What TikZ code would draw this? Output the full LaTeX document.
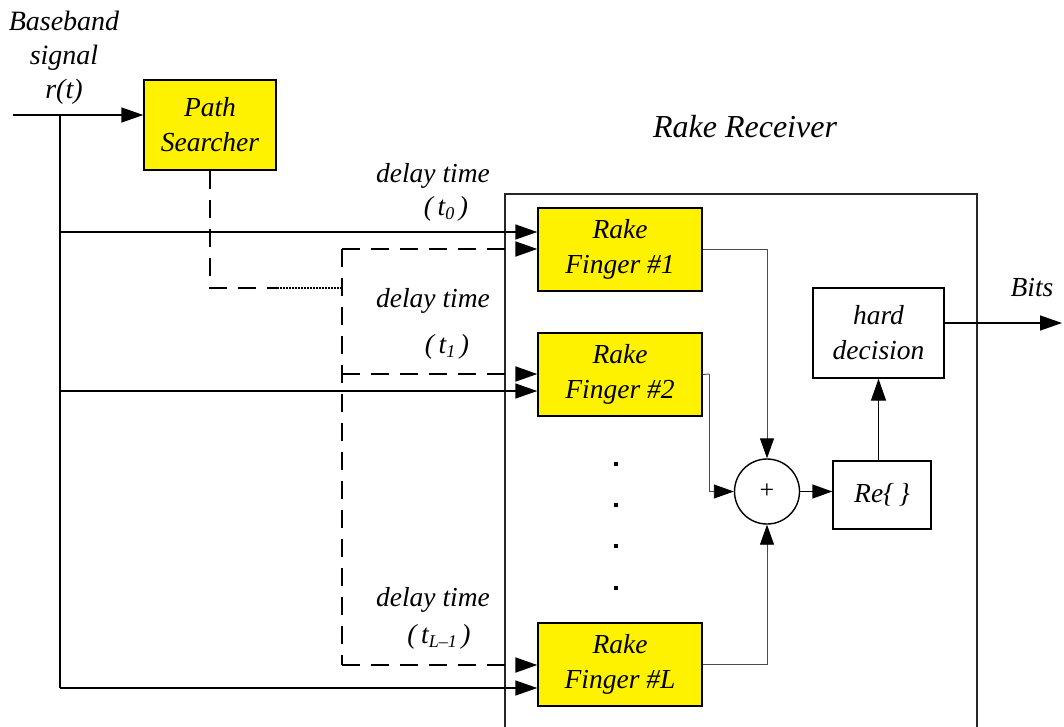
\documentclass[tikz,border=0pt]{standalone}
\usepackage{fontspec}
\setmainfont{Liberation Serif}
\usetikzlibrary{arrows.meta}

\newcommand\lowsub[1]{\raisebox{-0.35ex}{\fontsize{18}{18}\selectfont #1}}

\begin{document}
\begin{tikzpicture}[x=1pt,y=-1pt,
  font=\fontsize{27.5}{35}\selectfont\itshape,
  every node/.style={inner sep=0pt},
  txt/.style={align=center},
  blockbox/.style={draw=black, line width=1.4pt, align=center},
  yellowbox/.style={blockbox, fill=yellow, minimum width=164pt, minimum height=83pt},
  sig/.style={draw=black, line width=1.4pt},
  fine/.style={draw=black!70, line width=0.9pt},
  dashsig/.style={draw=black, line width=2pt, dash pattern=on 18pt off 11pt},
  dotsig/.style={draw=black, line width=1.3pt, dash pattern=on 1.5pt off 1.5pt},
  tip/.style={-{Triangle[length=22pt,width=15pt,color=black,fill=black]}},
  smalltip/.style={-{Triangle[length=20pt,width=14pt,color=black,fill=black]}},
  dotmark/.style={fill=black, minimum size=4.5pt}
]
\clip (0,0) rectangle (1064,726);

% receiver enclosure
\draw[line width=1.3pt, draw=black!85] (505,194) rectangle (977,760);
\node[anchor=base, font=\fontsize{32}{35}\selectfont\itshape] (rrlabel) at (745,137) {Rake Receiver};

% input and path searcher
\node[txt, font=\fontsize{28}{34}\selectfont\itshape] (bb) at (64,58) {Baseband\\signal\\r(t)};
\node[blockbox, fill=yellow, minimum width=132pt, minimum height=90pt] (ps) at (210,125) {Path\\Searcher};
\coordinate (in) at (13,115);
\coordinate (j0) at (60,115);
\draw[sig, tip] (in) -- (in -| ps.west);

% rake fingers
\node[yellowbox] (f1) at (620,249.5) {Rake\\Finger \#1};
\node[yellowbox] (f2) at (620,374.5) {Rake\\Finger \#2};
\node[yellowbox] (fL) at (620,664.5) {Rake\\Finger \#L};

% signal distribution
\coordinate (jL) at (60,688);
\coordinate (s1) at (60,232);
\coordinate (s2) at (60,391);
\draw[sig] (j0) -- (jL);
\draw[sig, tip] (s1) -- (s1 -| f1.west);
\draw[sig, tip] (s2) -- (s2 -| f2.west);
\draw[sig, tip] (jL) -- (jL -| fL.west);

% delay control from the path searcher
\coordinate (pc) at (210,288);
\coordinate (pd) at (277,288);
\coordinate (pe) at (342,288);
\coordinate (d1) at (342,249);
\coordinate (d2) at (342,374);
\coordinate (dL) at (342,665);
\draw[dashsig] (ps.south) -- (pc) -- (pd);
\draw[dotsig] (pd) -- (pe);
\draw[dashsig] (d1) -- (dL);
\draw[dashsig, tip] (d1) -- (d1 -| f1.west);
\draw[dashsig, tip] (d2) -- (d2 -| f2.west);
\draw[dashsig, tip] (dL) -- (dL -| fL.west);

% delay labels
\node[anchor=base] (dt0) at (433,182) {delay time};
\node[anchor=base] (t0) at (446,215) {(\,t\lowsub{0}\,)};
\node[anchor=base] (dt1) at (433,307) {delay time};
\node[anchor=base] (t1) at (447,353) {(\,t\lowsub{1}\,)};
\node[anchor=base] (dtL) at (433,606) {delay time};
\node[anchor=base] (tL) at (439,643) {(\,t\lowsub{L\textendash 1}\,)};

% ellipsis between fingers
\node[dotmark] (e1) at (616,464) {};
\node[dotmark] (e2) at (616,505) {};
\node[dotmark] (e3) at (616,546) {};
\node[dotmark] (e4) at (616,588) {};

% combiner
\node[circle, draw=black, line width=1.4pt, minimum size=65pt, font=\fontsize{26}{26}\selectfont\upshape] (sum) at (767,491.5) {+};
\coordinate (c2) at (709,374);
\draw[fine, smalltip] (f1.east) -| (sum.north);
\draw[fine] (f2.east) -- (c2);
\draw[fine, smalltip] (c2) |- (sum.west);
\draw[fine, smalltip] (fL.east) -| (sum.south);

% decision stages
\node[blockbox, minimum width=98pt, minimum height=68pt] (re) at (882,495) {Re\{\,\}};
\node[blockbox, minimum width=131pt, minimum height=90pt] (hd) at (878.5,333) {hard\\decision};
\draw[sig, smalltip] (sum.east) -- (sum.east -| re.west);
\draw[sig, tip] (hd.south |- re.north) -- (hd.south);

% output
\coordinate (hdo) at ([yshift=10pt]hd.east);
\coordinate (out) at (1062,323);
\draw[sig, tip] (hdo) -- (out);
\node[anchor=base] (bits) at (1032,296) {Bits};
\end{tikzpicture}
\end{document}
